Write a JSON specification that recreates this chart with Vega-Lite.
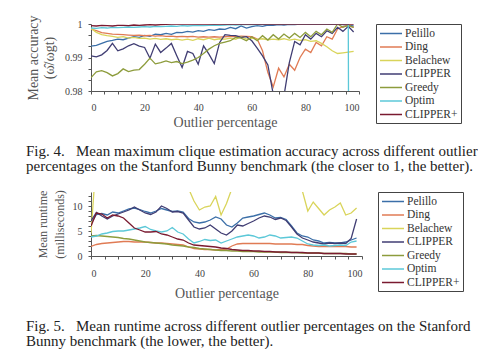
{
  "$schema": "https://vega.github.io/schema/vega-lite/v6.json",
  "background": "white",
  "padding": {"left": 26, "top": 14, "right": 0, "bottom": 0},
  "spacing": 15,
  "datasets": {
    "acc": [
      {"x": 0, "Pelillo": 0.9934, "Ding": 0.9985, "Belachew": 0.9987, "CLIPPER": 0.9905, "Greedy": 0.9840, "Optim": 0.9988, "CLIPPER+": 0.9995},
      {"x": 2, "Pelillo": 0.9936, "Ding": 0.9980, "Belachew": 0.9975, "CLIPPER": 0.9902, "Greedy": 0.9857, "Optim": 0.9987, "CLIPPER+": 0.9994},
      {"x": 4, "Pelillo": 0.9942, "Ding": 0.9974, "Belachew": 0.9968, "CLIPPER": 0.9908, "Greedy": 0.9861, "Optim": 0.9989, "CLIPPER+": 0.9996},
      {"x": 6, "Pelillo": 0.9948, "Ding": 0.9972, "Belachew": 0.9965, "CLIPPER": 0.9921, "Greedy": 0.9855, "Optim": 0.9988, "CLIPPER+": 0.9995},
      {"x": 8, "Pelillo": 0.9951, "Ding": 0.9970, "Belachew": 0.9963, "CLIPPER": 0.9942, "Greedy": 0.9845, "Optim": 0.9990, "CLIPPER+": 0.9994},
      {"x": 10, "Pelillo": 0.9955, "Ding": 0.9969, "Belachew": 0.9960, "CLIPPER": 0.9920, "Greedy": 0.9852, "Optim": 0.9989, "CLIPPER+": 0.9996},
      {"x": 12, "Pelillo": 0.9953, "Ding": 0.9968, "Belachew": 0.9962, "CLIPPER": 0.9926, "Greedy": 0.9866, "Optim": 0.9990, "CLIPPER+": 0.9996},
      {"x": 14, "Pelillo": 0.9958, "Ding": 0.9967, "Belachew": 0.9958, "CLIPPER": 0.9935, "Greedy": 0.9858, "Optim": 0.9991, "CLIPPER+": 0.9995},
      {"x": 16, "Pelillo": 0.9962, "Ding": 0.9966, "Belachew": 0.9960, "CLIPPER": 0.9941, "Greedy": 0.9862, "Optim": 0.9990, "CLIPPER+": 0.9997},
      {"x": 18, "Pelillo": 0.9960, "Ding": 0.9967, "Belachew": 0.9957, "CLIPPER": 0.9934, "Greedy": 0.9864, "Optim": 0.9991, "CLIPPER+": 0.9996},
      {"x": 20, "Pelillo": 0.9966, "Ding": 0.9965, "Belachew": 0.9958, "CLIPPER": 0.9930, "Greedy": 0.9880, "Optim": 0.9992, "CLIPPER+": 0.9997},
      {"x": 22, "Pelillo": 0.9963, "Ding": 0.9966, "Belachew": 0.9955, "CLIPPER": 0.9898, "Greedy": 0.9898, "Optim": 0.9991, "CLIPPER+": 0.9998},
      {"x": 24, "Pelillo": 0.9970, "Ding": 0.9964, "Belachew": 0.9957, "CLIPPER": 0.9940, "Greedy": 0.9881, "Optim": 0.9993, "CLIPPER+": 0.9997},
      {"x": 26, "Pelillo": 0.9968, "Ding": 0.9965, "Belachew": 0.9954, "CLIPPER": 0.9915, "Greedy": 0.9885, "Optim": 0.9992, "CLIPPER+": 0.9998},
      {"x": 28, "Pelillo": 0.9972, "Ding": 0.9963, "Belachew": 0.9956, "CLIPPER": 0.9928, "Greedy": 0.9890, "Optim": 0.9993, "CLIPPER+": 0.9999},
      {"x": 30, "Pelillo": 0.9969, "Ding": 0.9964, "Belachew": 0.9953, "CLIPPER": 0.9942, "Greedy": 0.9885, "Optim": 0.9994, "CLIPPER+": 1},
      {"x": 32, "Pelillo": 0.9975, "Ding": 0.9962, "Belachew": 0.9955, "CLIPPER": 0.9905, "Greedy": 0.9888, "Optim": 0.9993, "CLIPPER+": 1},
      {"x": 34, "Pelillo": 0.9974, "Ding": 0.9963, "Belachew": 0.9952, "CLIPPER": 0.9870, "Greedy": 0.9882, "Optim": 0.9995, "CLIPPER+": 1},
      {"x": 36, "Pelillo": 0.9978, "Ding": 0.9962, "Belachew": 0.9955, "CLIPPER": 0.9918, "Greedy": 0.9886, "Optim": 0.9994, "CLIPPER+": 1},
      {"x": 38, "Pelillo": 0.9976, "Ding": 0.9963, "Belachew": 0.9951, "CLIPPER": 0.9912, "Greedy": 0.9892, "Optim": 0.9995, "CLIPPER+": 1},
      {"x": 40, "Pelillo": 0.9980, "Ding": 0.9961, "Belachew": 0.9956, "CLIPPER": 0.9880, "Greedy": 0.9900, "Optim": 0.9996, "CLIPPER+": 1},
      {"x": 42, "Pelillo": 0.9978, "Ding": 0.9962, "Belachew": 0.9953, "CLIPPER": 0.9935, "Greedy": 0.9912, "Optim": 0.9995, "CLIPPER+": 1},
      {"x": 44, "Pelillo": 0.9983, "Ding": 0.9961, "Belachew": 0.9958, "CLIPPER": 0.9910, "Greedy": 0.9925, "Optim": 0.9996, "CLIPPER+": 1},
      {"x": 46, "Pelillo": 0.9981, "Ding": 0.9962, "Belachew": 0.9953, "CLIPPER": 0.9882, "Greedy": 0.9935, "Optim": 0.9997, "CLIPPER+": 1},
      {"x": 48, "Pelillo": 0.9985, "Ding": 0.9961, "Belachew": 0.9956, "CLIPPER": 0.9945, "Greedy": 0.9942, "Optim": 0.9996, "CLIPPER+": 1},
      {"x": 50, "Pelillo": 0.9984, "Ding": 0.9962, "Belachew": 0.9955, "CLIPPER": 0.9968, "Greedy": 0.9946, "Optim": 0.9997, "CLIPPER+": 1},
      {"x": 52, "Pelillo": 0.9990, "Ding": 0.9963, "Belachew": 0.9958, "CLIPPER": 0.9966, "Greedy": 0.9950, "Optim": 0.9998, "CLIPPER+": 1},
      {"x": 54, "Pelillo": 0.9986, "Ding": 0.9962, "Belachew": 0.9954, "CLIPPER": 0.9965, "Greedy": 0.9960, "Optim": 0.9997, "CLIPPER+": 1},
      {"x": 56, "Pelillo": 0.9994, "Ding": 0.9964, "Belachew": 0.9962, "CLIPPER": 0.9960, "Greedy": 0.9958, "Optim": 0.9998, "CLIPPER+": 1},
      {"x": 58, "Pelillo": 0.9988, "Ding": 0.9963, "Belachew": 0.9955, "CLIPPER": 0.9962, "Greedy": 0.9950, "Optim": 0.9998, "CLIPPER+": 1},
      {"x": 60, "Pelillo": 0.9992, "Ding": 0.9962, "Belachew": 0.9958, "CLIPPER": 0.9950, "Greedy": 0.9962, "Optim": 0.9999, "CLIPPER+": 1},
      {"x": 62, "Pelillo": 0.9995, "Ding": 0.9955, "Belachew": 0.9954, "CLIPPER": 0.9928, "Greedy": 0.9950, "Optim": 0.9998, "CLIPPER+": 1},
      {"x": 64, "Pelillo": 0.9993, "Ding": 0.9920, "Belachew": 0.9956, "CLIPPER": 0.9905, "Greedy": 0.9965, "Optim": 0.9999, "CLIPPER+": 1},
      {"x": 66, "Pelillo": 0.9997, "Ding": 0.9855, "Belachew": 0.9953, "CLIPPER": 0.9878, "Greedy": 0.9952, "Optim": 0.9999, "CLIPPER+": 1},
      {"x": 68, "Pelillo": 0.9996, "Ding": 0.9812, "Belachew": 0.9955, "CLIPPER": 0.9790, "Greedy": 0.9968, "Optim": 1, "CLIPPER+": 1},
      {"x": 70, "Pelillo": 0.9998, "Ding": 0.9868, "Belachew": 0.9953, "CLIPPER": 0.9750, "Greedy": 0.9955, "Optim": 1, "CLIPPER+": 1},
      {"x": 72, "Pelillo": 0.9997, "Ding": 0.9842, "Belachew": 0.9956, "CLIPPER": 0.9785, "Greedy": 0.9970, "Optim": 1, "CLIPPER+": 1},
      {"x": 74, "Pelillo": 0.9999, "Ding": 0.9880, "Belachew": 0.9952, "CLIPPER": 0.9885, "Greedy": 0.9958, "Optim": 1, "CLIPPER+": 1},
      {"x": 76, "Pelillo": 0.9998, "Ding": 0.9862, "Belachew": 0.9955, "CLIPPER": 0.9948, "Greedy": 0.9972, "Optim": 1, "CLIPPER+": 1},
      {"x": 78, "Pelillo": 1, "Ding": 0.9900, "Belachew": 0.9951, "CLIPPER": 0.9938, "Greedy": 0.9960, "Optim": 1, "CLIPPER+": 1},
      {"x": 80, "Pelillo": 0.9999, "Ding": 0.9925, "Belachew": 0.9953, "CLIPPER": 0.9968, "Greedy": 0.9975, "Optim": 1, "CLIPPER+": 1},
      {"x": 82, "Pelillo": 1, "Ding": 0.9915, "Belachew": 0.9948, "CLIPPER": 0.9955, "Greedy": 0.9962, "Optim": 1, "CLIPPER+": 1},
      {"x": 84, "Pelillo": 0.9999, "Ding": 0.9945, "Belachew": 0.9950, "CLIPPER": 0.9972, "Greedy": 0.9978, "Optim": 1, "CLIPPER+": 1},
      {"x": 86, "Pelillo": 1, "Ding": 0.9935, "Belachew": 0.9942, "CLIPPER": 0.9962, "Greedy": 0.9968, "Optim": 1, "CLIPPER+": 1},
      {"x": 88, "Pelillo": 1, "Ding": 0.9962, "Belachew": 0.9932, "CLIPPER": 0.9980, "Greedy": 0.9985, "Optim": 1, "CLIPPER+": 1},
      {"x": 90, "Pelillo": 0.9999, "Ding": 0.9955, "Belachew": 0.9920, "CLIPPER": 0.9972, "Greedy": 0.9975, "Optim": 1, "CLIPPER+": 1},
      {"x": 92, "Pelillo": 1, "Ding": 0.9985, "Belachew": 0.9912, "CLIPPER": 0.9990, "Greedy": 1, "Optim": 1, "CLIPPER+": 1},
      {"x": 94, "Pelillo": 0.9998, "Ding": 0.9992, "Belachew": 0.9914, "CLIPPER": 0.9978, "Greedy": 0.9990, "Optim": 1, "CLIPPER+": 1},
      {"x": 96, "Pelillo": 0.9996, "Ding": 0.9996, "Belachew": 0.9916, "CLIPPER": 0.9993, "Greedy": 0.9996, "Optim": 1, "CLIPPER+": 1},
      {"x": 98, "Pelillo": 0.9994, "Ding": 0.9990, "Belachew": 0.9918, "CLIPPER": 0.9976, "Greedy": 0.9990, "Optim": 0.5, "CLIPPER+": 1}
    ],
    "rt": [
      {"x": 0, "Pelillo": 6.5, "Ding": 1.9, "Belachew": 4.5, "CLIPPER": 7.0, "Greedy": 4.0, "Optim": 3.8, "CLIPPER+": 6.0},
      {"x": 2, "Pelillo": 8.3, "Ding": 2.3, "Belachew": 20, "CLIPPER": 8.7, "Greedy": 4.1, "Optim": 4.0, "CLIPPER+": 8.6},
      {"x": 4, "Pelillo": 8.5, "Ding": 2.5, "Belachew": 20, "CLIPPER": 8.0, "Greedy": 4.0, "Optim": 4.4, "CLIPPER+": 8.4},
      {"x": 6, "Pelillo": 8.2, "Ding": 2.6, "Belachew": 20, "CLIPPER": 7.4, "Greedy": 3.9, "Optim": 4.6, "CLIPPER+": 7.6},
      {"x": 8, "Pelillo": 8.8, "Ding": 2.7, "Belachew": 20, "CLIPPER": 8.0, "Greedy": 3.8, "Optim": 4.9, "CLIPPER+": 8.2},
      {"x": 10, "Pelillo": 8.6, "Ding": 2.8, "Belachew": 20, "CLIPPER": 8.4, "Greedy": 3.7, "Optim": 5.0, "CLIPPER+": 8.0},
      {"x": 12, "Pelillo": 9.0, "Ding": 2.9, "Belachew": 20, "CLIPPER": 8.8, "Greedy": 3.5, "Optim": 5.0, "CLIPPER+": 7.6},
      {"x": 14, "Pelillo": 9.4, "Ding": 2.9, "Belachew": 20, "CLIPPER": 9.2, "Greedy": 3.4, "Optim": 5.2, "CLIPPER+": 6.6},
      {"x": 16, "Pelillo": 9.6, "Ding": 2.8, "Belachew": 20, "CLIPPER": 9.8, "Greedy": 3.2, "Optim": 5.4, "CLIPPER+": 5.6},
      {"x": 18, "Pelillo": 9.3, "Ding": 2.8, "Belachew": 20, "CLIPPER": 9.2, "Greedy": 3.0, "Optim": 5.6, "CLIPPER+": 5.2},
      {"x": 20, "Pelillo": 8.9, "Ding": 2.8, "Belachew": 20, "CLIPPER": 8.6, "Greedy": 2.8, "Optim": 5.9, "CLIPPER+": 4.8},
      {"x": 22, "Pelillo": 8.6, "Ding": 2.7, "Belachew": 20, "CLIPPER": 8.3, "Greedy": 2.7, "Optim": 5.3, "CLIPPER+": 4.8},
      {"x": 24, "Pelillo": 9.0, "Ding": 2.6, "Belachew": 20, "CLIPPER": 8.8, "Greedy": 2.6, "Optim": 5.0, "CLIPPER+": 4.9},
      {"x": 26, "Pelillo": 9.5, "Ding": 2.6, "Belachew": 20, "CLIPPER": 10.0, "Greedy": 2.5, "Optim": 4.8, "CLIPPER+": 4.4},
      {"x": 28, "Pelillo": 9.2, "Ding": 2.5, "Belachew": 20, "CLIPPER": 9.5, "Greedy": 2.4, "Optim": 5.0, "CLIPPER+": 4.2},
      {"x": 30, "Pelillo": 8.9, "Ding": 2.4, "Belachew": 20, "CLIPPER": 8.8, "Greedy": 2.2, "Optim": 5.7, "CLIPPER+": 3.8},
      {"x": 32, "Pelillo": 9.0, "Ding": 2.3, "Belachew": 20, "CLIPPER": 8.9, "Greedy": 2.1, "Optim": 4.8, "CLIPPER+": 3.4},
      {"x": 34, "Pelillo": 8.8, "Ding": 2.2, "Belachew": 20, "CLIPPER": 8.6, "Greedy": 2.0, "Optim": 4.4, "CLIPPER+": 3.2},
      {"x": 36, "Pelillo": 7.5, "Ding": 1.8, "Belachew": 13.5, "CLIPPER": 7.2, "Greedy": 1.8, "Optim": 3.4, "CLIPPER+": 2.6},
      {"x": 38, "Pelillo": 6.8, "Ding": 1.5, "Belachew": 11.0, "CLIPPER": 5.8, "Greedy": 1.7, "Optim": 2.6, "CLIPPER+": 2.2},
      {"x": 40, "Pelillo": 6.6, "Ding": 1.4, "Belachew": 9.2, "CLIPPER": 5.4, "Greedy": 1.5, "Optim": 2.9, "CLIPPER+": 2.1},
      {"x": 42, "Pelillo": 6.8, "Ding": 1.3, "Belachew": 9.8, "CLIPPER": 5.6, "Greedy": 1.4, "Optim": 3.3, "CLIPPER+": 2.0},
      {"x": 44, "Pelillo": 7.2, "Ding": 1.3, "Belachew": 10.0, "CLIPPER": 6.2, "Greedy": 1.3, "Optim": 3.1, "CLIPPER+": 1.9},
      {"x": 46, "Pelillo": 7.8, "Ding": 1.2, "Belachew": 11.9, "CLIPPER": 5.4, "Greedy": 1.2, "Optim": 3.2, "CLIPPER+": 1.8},
      {"x": 48, "Pelillo": 7.4, "Ding": 1.3, "Belachew": 8.2, "CLIPPER": 4.6, "Greedy": 1.1, "Optim": 2.6, "CLIPPER+": 1.6},
      {"x": 50, "Pelillo": 6.2, "Ding": 1.4, "Belachew": 10.5, "CLIPPER": 4.2, "Greedy": 1.1, "Optim": 3.0, "CLIPPER+": 1.5},
      {"x": 52, "Pelillo": 5.8, "Ding": 2.0, "Belachew": 13.5, "CLIPPER": 5.0, "Greedy": 1.0, "Optim": 3.4, "CLIPPER+": 1.3},
      {"x": 54, "Pelillo": 6.6, "Ding": 2.4, "Belachew": 20, "CLIPPER": 6.2, "Greedy": 1.0, "Optim": 3.8, "CLIPPER+": 1.2},
      {"x": 56, "Pelillo": 7.6, "Ding": 2.5, "Belachew": 20, "CLIPPER": 6.0, "Greedy": 0.9, "Optim": 4.0, "CLIPPER+": 1.1},
      {"x": 58, "Pelillo": 7.8, "Ding": 2.5, "Belachew": 20, "CLIPPER": 6.5, "Greedy": 0.9, "Optim": 4.2, "CLIPPER+": 1.1},
      {"x": 60, "Pelillo": 8.0, "Ding": 2.5, "Belachew": 20, "CLIPPER": 7.0, "Greedy": 0.9, "Optim": 4.0, "CLIPPER+": 1.0},
      {"x": 62, "Pelillo": 8.3, "Ding": 2.5, "Belachew": 20, "CLIPPER": 7.6, "Greedy": 0.8, "Optim": 3.6, "CLIPPER+": 1.0},
      {"x": 64, "Pelillo": 8.6, "Ding": 2.5, "Belachew": 20, "CLIPPER": 8.0, "Greedy": 0.8, "Optim": 3.8, "CLIPPER+": 0.9},
      {"x": 66, "Pelillo": 8.2, "Ding": 2.5, "Belachew": 20, "CLIPPER": 7.8, "Greedy": 0.8, "Optim": 4.2, "CLIPPER+": 0.9},
      {"x": 68, "Pelillo": 7.6, "Ding": 2.4, "Belachew": 20, "CLIPPER": 7.3, "Greedy": 0.8, "Optim": 4.0, "CLIPPER+": 0.8},
      {"x": 70, "Pelillo": 7.7, "Ding": 2.4, "Belachew": 20, "CLIPPER": 7.6, "Greedy": 0.7, "Optim": 3.6, "CLIPPER+": 0.8},
      {"x": 72, "Pelillo": 7.3, "Ding": 2.4, "Belachew": 20, "CLIPPER": 7.1, "Greedy": 0.7, "Optim": 3.7, "CLIPPER+": 0.8},
      {"x": 74, "Pelillo": 6.0, "Ding": 2.4, "Belachew": 20, "CLIPPER": 5.8, "Greedy": 0.7, "Optim": 3.8, "CLIPPER+": 0.7},
      {"x": 76, "Pelillo": 4.6, "Ding": 2.3, "Belachew": 20, "CLIPPER": 4.4, "Greedy": 0.7, "Optim": 3.6, "CLIPPER+": 0.7},
      {"x": 78, "Pelillo": 4.0, "Ding": 2.3, "Belachew": 13.0, "CLIPPER": 3.6, "Greedy": 0.6, "Optim": 3.0, "CLIPPER+": 0.7},
      {"x": 80, "Pelillo": 3.8, "Ding": 2.1, "Belachew": 9.0, "CLIPPER": 3.2, "Greedy": 0.6, "Optim": 2.4, "CLIPPER+": 0.6},
      {"x": 82, "Pelillo": 3.2, "Ding": 2.0, "Belachew": 10.8, "CLIPPER": 2.8, "Greedy": 0.6, "Optim": 2.2, "CLIPPER+": 0.6},
      {"x": 84, "Pelillo": 3.0, "Ding": 1.9, "Belachew": 9.5, "CLIPPER": 2.6, "Greedy": 0.6, "Optim": 2.1, "CLIPPER+": 0.6},
      {"x": 86, "Pelillo": 2.6, "Ding": 1.9, "Belachew": 8.2, "CLIPPER": 2.4, "Greedy": 0.5, "Optim": 2.2, "CLIPPER+": 0.5},
      {"x": 88, "Pelillo": 2.7, "Ding": 1.9, "Belachew": 9.2, "CLIPPER": 2.6, "Greedy": 0.5, "Optim": 2.0, "CLIPPER+": 0.5},
      {"x": 90, "Pelillo": 2.6, "Ding": 1.9, "Belachew": 9.8, "CLIPPER": 2.5, "Greedy": 0.5, "Optim": 2.1, "CLIPPER+": 0.5},
      {"x": 92, "Pelillo": 2.6, "Ding": 1.9, "Belachew": 10.6, "CLIPPER": 2.6, "Greedy": 0.5, "Optim": 2.2, "CLIPPER+": 0.5},
      {"x": 94, "Pelillo": 2.8, "Ding": 1.9, "Belachew": 8.2, "CLIPPER": 2.5, "Greedy": 0.5, "Optim": 2.1, "CLIPPER+": 0.4},
      {"x": 96, "Pelillo": 3.2, "Ding": 1.8, "Belachew": 8.6, "CLIPPER": 3.5, "Greedy": 0.4, "Optim": 2.8, "CLIPPER+": 0.4},
      {"x": 98, "Pelillo": 3.6, "Ding": 1.8, "Belachew": 9.6, "CLIPPER": 7.4, "Greedy": 0.4, "Optim": 3.0, "CLIPPER+": 0.4}
    ]
  },
  "vconcat": [
    {
      "data": {"name": "acc"},
      "transform": [{"fold": ["Pelillo", "Ding", "Belachew", "CLIPPER", "Greedy", "Optim", "CLIPPER+"], "as": ["s", "v"]}],
      "width": 268,
      "height": 67,
      "title": {
        "text": ["Fig. 4.\u00a0\u00a0 Mean maximum clique estimation accuracy across different outlier", "percentages on the Stanford Bunny benchmark (the closer to 1, the better)."],
        "orient": "bottom", "anchor": "start", "frame": "group", "dx": -65, "offset": 15
      },
      "mark": {"type": "line", "clip": true, "strokeWidth": 1.3},
      "encoding": {
        "x": {"field": "x", "type": "quantitative", "scale": {"domain": [0, 100], "nice": false},
          "axis": {"title": "Outlier percentage", "labelFont": "Liberation Serif", "titleFont": "Liberation Serif", "titlePadding": 3, "values": [0,5,10,15,20,25,30,35,40,45,50,55,60,65,70,75,80,85,90,95,100], "labelExpr": "datum.value % 20 === 0 ? datum.label : ''"}},
        "y": {"field": "v", "type": "quantitative", "scale": {"domain": [0.98, 1], "zero": false, "nice": false},
          "axis": {"title": ["Mean accuracy", "(ω̂/ωgt)"], "labelFont": "Liberation Serif", "titleFont": "Liberation Serif", "titleFontSize": 14, "titlePadding": 8, "values": [0.98, 0.983333, 0.986667, 0.99, 0.993333, 0.996667, 1], "labelExpr": "round(datum.value * 300) % 3 === 0 ? format(datum.value, '.2~f') : ''"}},
        "color": {"field": "s", "type": "nominal",
          "scale": {"domain": ["Pelillo", "Ding", "Belachew", "CLIPPER", "Greedy", "Optim", "CLIPPER+"], "range": ["#3b6fa8", "#e07b54", "#d9d45a", "#403d73", "#8d9c3c", "#5cc8d8", "#7a1a30"]},
          "legend": {"title": null, "offset": 17, "labelFont": "Liberation Serif"}}
      }
    },
    {
      "data": {"name": "rt"},
      "transform": [{"fold": ["Pelillo", "Ding", "Belachew", "CLIPPER", "Greedy", "Optim", "CLIPPER+"], "as": ["s", "v"]}],
      "width": 271,
      "height": 64,
      "title": {
        "text": ["Fig. 5.\u00a0\u00a0 Mean runtime across different outlier percentages on the Stanford", "Bunny benchmark (the lower, the better)."],
        "orient": "bottom", "anchor": "start", "frame": "group", "dx": -65, "offset": 19
      },
      "mark": {"type": "line", "clip": true, "strokeWidth": 1.3},
      "encoding": {
        "x": {"field": "x", "type": "quantitative", "scale": {"domain": [0, 100], "nice": false},
          "axis": {"title": "Outlier percentage", "labelFont": "Liberation Serif", "titleFont": "Liberation Serif", "titlePadding": 8, "labelPadding": 9, "values": [0,5,10,15,20,25,30,35,40,45,50,55,60,65,70,75,80,85,90,95,100], "labelExpr": "datum.value % 20 === 0 ? datum.label : ''"}},
        "y": {"field": "v", "type": "quantitative", "scale": {"domain": [0, 12.8], "nice": false},
          "axis": {"title": ["Mean runtime", "(milliseconds)"], "labelFont": "Liberation Serif", "titleFont": "Liberation Serif", "titleFontSize": 12, "titleLineHeight": 17, "titlePadding": 6, "values": [0,1,2,3,4,5,6,7,8,9,10,11,12], "labelExpr": "datum.value % 5 === 0 ? datum.label : ''"}},
        "color": {"field": "s", "type": "nominal",
          "scale": {"domain": ["Pelillo", "Ding", "Belachew", "CLIPPER", "Greedy", "Optim", "CLIPPER+"], "range": ["#3b6fa8", "#e07b54", "#d9d45a", "#403d73", "#8d9c3c", "#5cc8d8", "#7a1a30"]},
          "legend": {"title": null, "offset": 16, "labelFont": "Liberation Serif"}}
      }
    }
  ],
  "resolve": {"scale": {"color": "independent"}},
  "config": {
    "font": "Liberation Serif",
    "view": {"stroke": null},
    "style": {"guide-label": {"font": "Liberation Serif"}, "guide-title": {"font": "Liberation Serif"}},
    "axis": {"grid": false, "labelFont": "Liberation Serif", "titleFont": "Liberation Serif", "labelFontSize": 10, "titleFontSize": 14, "titleFontWeight": "normal", "labelColor": "#444", "titleColor": "#555", "domainColor": "#555", "tickColor": "#555", "tickSize": 3, "titlePadding": 5, "titleLineHeight": 16},
    "axisX": {"labelPadding": 8},
    "axisY": {"labelPadding": 6},
    "legend": {"labelFont": "Liberation Serif", "labelFontSize": 11.5, "labelColor": "#333", "symbolType": "M-1,0H3", "symbolSize": 121, "symbolStrokeWidth": 1.5, "strokeColor": "#444", "padding": 3, "rowPadding": 1.5, "labelOffset": 13},
    "title": {"font": "Liberation Serif", "fontSize": 15, "fontWeight": "normal", "color": "#222", "lineHeight": 15}
  }
}
